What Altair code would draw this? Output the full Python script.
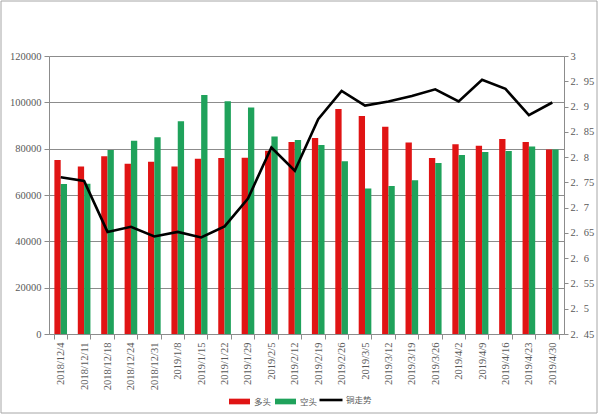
import altair as alt
import pandas as pd

dates = ["2018/12/4", "2018/12/11", "2018/12/18", "2018/12/24", "2018/12/31",
         "2019/1/8", "2019/1/15", "2019/1/22", "2019/1/29", "2019/2/5",
         "2019/2/12", "2019/2/19", "2019/2/26", "2019/3/5", "2019/3/12",
         "2019/3/19", "2019/3/26", "2019/4/2", "2019/4/9", "2019/4/16",
         "2019/4/23", "2019/4/30"]
long_pos = [75100, 72300, 76700, 73500, 74400, 72300, 75700, 76000, 76100, 79100,
            82900, 84600, 97100, 94100, 89500, 82700, 76000, 81900, 81300, 84200,
            82900, 79600]
short_pos = [64700, 64900, 79400, 83400, 84900, 91800, 103200, 100500, 97800, 85300,
             83700, 81600, 74600, 62800, 63900, 66400, 73800, 77300, 78600, 79000,
             80900, 79600]
copper = [2.760, 2.753, 2.652, 2.662, 2.643, 2.652, 2.641, 2.663, 2.718, 2.819,
          2.773, 2.875, 2.931, 2.902, 2.910, 2.921, 2.934, 2.910, 2.953, 2.935,
          2.883, 2.908]
series_names = ["多头", "空头"]
line_name = "铜走势"
left_ticks = [0, 20000, 40000, 60000, 80000, 100000, 120000]
right_ticks = [2.45, 2.5, 2.55, 2.6, 2.65, 2.7, 2.75, 2.8, 2.85, 2.9, 2.95, 3.0]

RED = "#E01414"
GREEN = "#1FA25B"
AXIS_GRAY = "#8C8C8C"
TEXT_GRAY = "#595959"
NUM_FONT = "Liberation Serif"
CJK_FONT = "Noto Sans CJK SC"

bars_df = pd.DataFrame({
    "date": dates * 2,
    "series": [series_names[0]] * len(dates) + [series_names[1]] * len(dates),
    "value": long_pos + short_pos,
})
line_df = pd.DataFrame({"date": dates, "price": copper, "name": [line_name] * len(dates)})

x_enc = alt.X("date:N", sort=dates, title=None,
              scale=alt.Scale(paddingInner=0.46, paddingOuter=0.23),
              axis=alt.Axis(labelAngle=-90, tickBand="extent", tickSize=5,
                            labelPadding=3, labelFont=NUM_FONT, labelFontSize=10.5,
                            labelColor=TEXT_GRAY, domainColor=AXIS_GRAY,
                            tickColor=AXIS_GRAY, grid=False))

bars = alt.Chart(bars_df).mark_bar().encode(
    x=x_enc,
    xOffset=alt.XOffset("series:N", sort=series_names, scale=alt.Scale(paddingInner=0, paddingOuter=0)),
    y=alt.Y("value:Q", title=None,
            scale=alt.Scale(domain=[0, 120000], nice=False),
            axis=alt.Axis(orient="left", values=left_ticks, format="d", tickSize=5,
                          labelPadding=3, labelFont=NUM_FONT, labelFontSize=10.5,
                          labelColor=TEXT_GRAY, domainColor=AXIS_GRAY,
                          tickColor=AXIS_GRAY, grid=True, gridColor=AXIS_GRAY,
                          gridOpacity=1)),
    color=alt.Color("series:N", sort=series_names,
                    scale=alt.Scale(domain=series_names, range=[RED, GREEN]),
                    legend=alt.Legend(orient="none", legendX=180, legendY=335,
                                      direction="horizontal", title=None,
                                      symbolType="M-1,-0.27H1V0.27H-1Z", symbolSize=441,
                                      symbolOpacity=1, symbolStrokeWidth=0,
                                      labelFont=CJK_FONT, labelFontSize=8.5,
                                      labelColor=TEXT_GRAY, labelOffset=4,
                                      columnPadding=3)),
)

line = alt.Chart(line_df).mark_line(strokeWidth=2.6).encode(
    x=alt.X("date:N", sort=dates),
    y=alt.Y("price:Q", title=None,
            scale=alt.Scale(domain=[2.45, 3.0], nice=False, zero=False),
            axis=alt.Axis(orient="right", values=right_ticks, format=".2~f",
                          labelExpr="replace(datum.label, '.', '.\u2002')",
                          tickSize=4, labelPadding=2, labelFont=NUM_FONT,
                          labelFontSize=10.5, labelColor=TEXT_GRAY,
                          domainColor=AXIS_GRAY, tickColor=AXIS_GRAY, grid=False)),
    stroke=alt.Stroke("name:N",
                      scale=alt.Scale(domain=[line_name], range=["#000000"]),
                      legend=alt.Legend(orient="none", legendX=269, legendY=331,
                                        title=None, symbolType="stroke",
                                        symbolSize=529, symbolStrokeWidth=2.6,
                                        labelFont=CJK_FONT, labelFontSize=8.5,
                                        labelColor=TEXT_GRAY, labelOffset=2)),
)

border = alt.Chart(pd.DataFrame({"k": [0]})).mark_rect(
    fill="transparent", stroke="#A6A6A6", strokeWidth=1
).encode(
    x=alt.value(-48), x2=alt.value(548), y=alt.value(-55), y2=alt.value(357)
)

chart = alt.layer(bars, line, border).resolve_scale(
    y="independent", color="independent", stroke="independent"
).properties(
    width=515, height=278,
    autosize=alt.AutoSizeParams(type="none"),
    padding={"left": 49, "top": 56, "right": 36, "bottom": 81},
    background="white",
).configure_view(strokeWidth=0)

chart.save("out.html", embed_options={"renderer": "svg", "actions": False})
